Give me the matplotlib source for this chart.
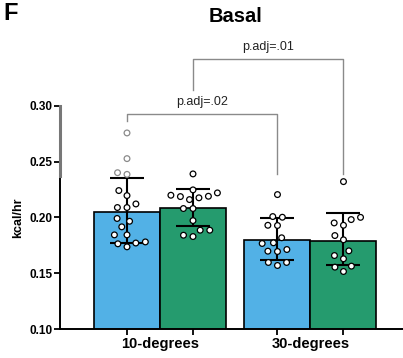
import matplotlib

matplotlib.use("Agg")
import matplotlib.pyplot as plt
import numpy as np

plt.rcParams["font.family"] = ["Liberation Sans", "DejaVu Sans"]

# values
GROUPS = ["10-degrees", "30-degrees"]
MEANS = [0.205, 0.208, 0.180, 0.179]
SD_LOW = [0.1768, 0.192, 0.1622, 0.157]
SD_HIGH = [0.2353, 0.2258, 0.199, 0.2037]
BLUE_10 = [0.2756, 0.2526, 0.240, 0.2385, 0.224, 0.2195, 0.212, 0.2088, 0.2088,
           0.199, 0.1965, 0.1915, 0.1843, 0.1843, 0.178, 0.177, 0.1763, 0.1736]
GREEN_10 = [0.2389, 0.2246, 0.2219, 0.2198, 0.2189, 0.2186, 0.2175, 0.2159,
            0.2079, 0.2079, 0.1971, 0.1885, 0.1885, 0.184, 0.1828]
BLUE_30 = [0.2204, 0.2007, 0.2001, 0.1929, 0.1927, 0.1817, 0.1772, 0.1766,
           0.1712, 0.1697, 0.1694, 0.1596, 0.1596, 0.1569]
GREEN_30 = [0.232, 0.200, 0.198, 0.195, 0.1929, 0.1837, 0.1799, 0.170, 0.1658,
            0.1629, 0.1563, 0.1554, 0.1515]
COMPARISONS = [("p.adj=.02", 0, 2), ("p.adj=.01", 1, 3)]

POS = [0.0, 1.0, 2.28, 3.28]
COLORS = ["#52b1e6", "#259b6e", "#52b1e6", "#259b6e"]
PX_X, PX_Y = 66.0, 1118.0  # pixels per data unit


def swarm(vals, d=9.6):
    """Simple beeswarm offsets (data units) so circles do not overlap."""
    vals = np.asarray(vals)
    offs = np.zeros(len(vals))
    placed = []
    for i in np.argsort(vals):
        y = vals[i] * PX_Y
        cands = [0.0]
        for px, py in placed:
            dy = abs(py - y)
            if dy < d:
                dx = np.sqrt(d * d - dy * dy)
                cands += [px - dx, px + dx]
        cands.sort(key=abs)
        for c in cands:
            if all((c - px) ** 2 + (y - py) ** 2 >= d * d - 1e-6 for px, py in placed):
                break
        placed.append((c, y))
        offs[i] = c
    return offs / PX_X


fig = plt.figure(figsize=(4.03, 3.58), dpi=100)
ax = fig.add_axes([60 / 403, 29 / 358, 343 / 403, 223.3 / 358])

ax.bar(POS, MEANS, width=1.0, color=COLORS, edgecolor="black", linewidth=1.2, zorder=2)
err = [np.array(MEANS) - np.array(SD_LOW), np.array(SD_HIGH) - np.array(MEANS)]
ax.errorbar(POS, MEANS, yerr=err, fmt="none", ecolor="black", elinewidth=1.5,
            capsize=12, capthick=1.5, zorder=3)

for x0, vals in zip(POS, [BLUE_10, GREEN_10, BLUE_30, GREEN_30]):
    vals = np.asarray(vals)
    xs = x0 + swarm(vals)
    # the top of the reference is faded for the first bar
    edge = ["#8a8a8a" if (x0 == 0 and v > 0.237) else "black" for v in vals]
    ax.scatter(xs, vals, s=17, facecolor="white", edgecolor=edge, linewidth=0.9, zorder=4)

# significance brackets
for i, (label, a, b) in enumerate(COMPARISONS):
    ytop = [0.2926, 0.3418][i]
    yleft = [0.286, 0.3143][i]
    yright = 0.2392
    ax.plot([POS[a], POS[a], POS[b], POS[b]], [yleft, ytop, ytop, yright],
            color="#8a8a8a", lw=1.0, clip_on=False, zorder=1)
    ax.text((POS[a] + POS[b]) / 2, ytop + 0.011, label, ha="center", va="center",
            fontsize=9, color="#222222")

ax.set_ylim(0.10, 0.30)
ax.set_xlim(-67 / PX_X, 276 / PX_X)
ax.set_yticks([0.10, 0.15, 0.20, 0.25, 0.30])
ax.set_yticklabels(["0.10", "0.15", "0.20", "0.25", "0.30"], fontsize=8.5, fontweight="bold")
ax.set_xticks(POS)
ax.set_xticklabels([])
ax.set_xticks([(POS[0] + POS[1]) / 2, (POS[2] + POS[3]) / 2], minor=True)
ax.set_xticklabels(GROUPS, minor=True, fontsize=10.5, fontweight="bold")
ax.tick_params(axis="x", which="minor", length=0, pad=6)
ax.tick_params(axis="both", which="major", length=4, width=1.3, pad=1.5)

for s in ("top", "right"):
    ax.spines[s].set_visible(False)
ax.spines["left"].set_linewidth(1.4)
ax.spines["bottom"].set_linewidth(1.4)
ax.spines["left"].set_bounds(0.10, 0.237)
# faded upper part of the y axis, as in the reference
ax.plot([ax.get_xlim()[0]] * 2, [0.237, 0.30], color="#777777", lw=2.2,
        clip_on=False, zorder=5)

fig.text(236 / 403, 1 - 16 / 358, "Basal", ha="center", va="center",
         fontsize=14.5, fontweight="bold")
fig.text(3 / 403, 1 - 2 / 358, "F", ha="left", va="top", fontsize=17, fontweight="bold")
fig.text(18 / 403, 1 - 218 / 358, "kcal/hr", ha="center", va="center", rotation=90,
         fontsize=9, fontweight="bold")

fig.savefig("out.png", dpi=100)
